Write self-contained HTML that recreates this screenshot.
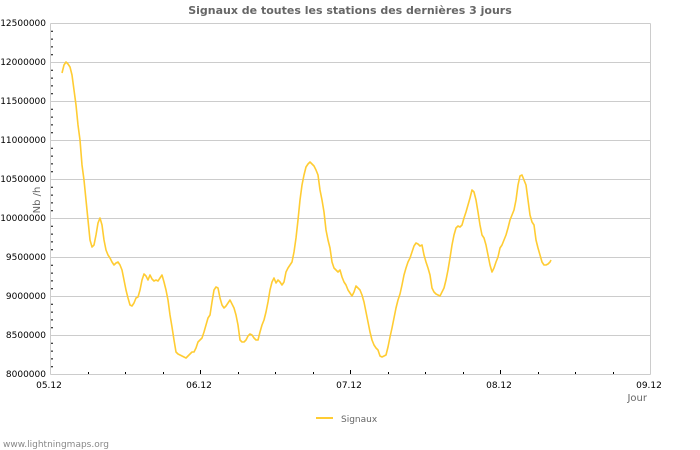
<!DOCTYPE html>
<html><head><meta charset="utf-8"><style>
html,body{margin:0;padding:0;background:#fff;}
svg{display:block;font-family:"DejaVu Sans","Liberation Sans",sans-serif;}
</style></head><body>
<svg width="700" height="450" viewBox="0 0 700 450" xmlns="http://www.w3.org/2000/svg">
<rect width="700" height="450" fill="#fff"/>
<text x="350" y="14" text-anchor="middle" font-size="11" font-weight="bold" fill="#666">Signaux de toutes les stations des dernières 3 jours</text>
<g stroke="#ccc" stroke-width="1" fill="none">
<line x1="50.5" y1="23.5" x2="650.5" y2="23.5"/>
<line x1="50.5" y1="62.5" x2="650.5" y2="62.5"/>
<line x1="50.5" y1="101.5" x2="650.5" y2="101.5"/>
<line x1="50.5" y1="140.5" x2="650.5" y2="140.5"/>
<line x1="50.5" y1="179.5" x2="650.5" y2="179.5"/>
<line x1="50.5" y1="218.5" x2="650.5" y2="218.5"/>
<line x1="50.5" y1="257.5" x2="650.5" y2="257.5"/>
<line x1="50.5" y1="296.5" x2="650.5" y2="296.5"/>
<line x1="50.5" y1="335.5" x2="650.5" y2="335.5"/>
<line x1="50.5" y1="374.5" x2="650.5" y2="374.5"/>
<line x1="50.5" y1="23.5" x2="50.5" y2="374.5"/>
<line x1="650.5" y1="23.5" x2="650.5" y2="374.5"/>
</g>
<g stroke="#000" stroke-width="1">
<path d="M51 31.3h2M51 39.1h2M51 46.9h2M51 54.7h2M51 70.3h2M51 78.1h2M51 85.9h2M51 93.7h2M51 109.3h2M51 117.1h2M51 124.9h2M51 132.7h2M51 148.3h2M51 156.1h2M51 163.9h2M51 171.7h2M51 187.3h2M51 195.1h2M51 202.9h2M51 210.7h2M51 226.3h2M51 234.1h2M51 241.9h2M51 249.7h2M51 265.3h2M51 273.1h2M51 280.9h2M51 288.7h2M51 304.3h2M51 312.1h2M51 319.9h2M51 327.7h2M51 343.3h2M51 351.1h2M51 358.9h2M51 366.7h2"/>
<path d="M88.5 374v-2M125.5 374v-2M163.5 374v-2M200.5 374v-4M238.5 374v-2M275.5 374v-2M313.5 374v-2M350.5 374v-4M388.5 374v-2M425.5 374v-2M463.5 374v-2M500.5 374v-4M538.5 374v-2M575.5 374v-2M613.5 374v-2"/>
</g>
<g font-size="9" fill="#000" text-anchor="end">
<text x="46" y="26">12500000</text><text x="46" y="65">12000000</text><text x="46" y="104">11500000</text><text x="46" y="143">11000000</text><text x="46" y="182">10500000</text><text x="46" y="221">10000000</text><text x="46" y="260">9500000</text><text x="46" y="299">9000000</text><text x="46" y="338">8500000</text><text x="46" y="377">8000000</text>
</g>
<g font-size="9" fill="#000" text-anchor="middle">
<text x="49" y="388">05.12</text><text x="199" y="388">06.12</text><text x="349" y="388">07.12</text><text x="499" y="388">08.12</text><text x="649" y="388">09.12</text>
</g>
<text x="647" y="401" text-anchor="end" font-size="10" fill="#666">Jour</text>
<text transform="translate(40,200) rotate(-90)" text-anchor="middle" font-size="10" fill="#666">Nb /h</text>
<polyline fill="none" stroke="#ffcc33" stroke-width="1.6" stroke-linejoin="round" points="62,73 64,65 66,62 68,64 70,67 72,75 74,90 76,105 78,125 80,140 82,165 84,180 86,200 88,220 90,240 92,247 94,245 96,235 98,223 100,218 102,225 104,240 106,250 108,255 110,258 112,262 114,265 116,263 118,262 120,265 122,270 124,280 126,290 128,298 130,305 132,306 134,303 136,298 138,297 140,290 142,280 144,274 146,276 148,280 150,275 152,279 154,281 156,280 158,281 160,278 162,275 164,282 166,290 168,300 170,315 172,327 174,340 176,352 178,354 180,355 182,356 184,357 186,358 188,356 190,354 192,352 194,352 196,348 198,342 200,340 202,338 204,332 206,325 208,318 210,315 212,302 214,290 216,287 218,288 220,298 222,305 224,308 226,306 228,303 230,300 232,304 234,308 236,315 238,325 240,340 242,342 244,342 246,340 248,336 250,334 252,335 254,338 256,340 258,340 260,332 262,325 264,320 266,312 268,302 270,290 272,282 274,278 276,283 278,280 280,282 282,285 284,282 286,272 288,268 290,265 292,262 294,252 296,238 298,220 300,200 302,185 304,175 306,167 308,164 310,162 312,164 314,166 316,170 318,175 320,190 322,200 324,212 326,230 328,240 330,248 332,262 334,268 336,270 338,272 340,270 342,277 344,282 346,285 348,290 350,293 352,296 354,292 356,286 358,288 360,290 362,295 364,302 366,312 368,322 370,332 372,340 374,345 376,348 378,350 380,356 382,357 384,356 386,355 388,347 390,337 392,328 394,318 396,308 398,300 400,294 402,285 404,275 406,268 408,262 410,258 412,252 414,246 416,243 418,244 420,246 422,245 424,255 426,262 428,268 430,275 432,288 434,292 436,294 438,295 440,296 442,292 444,288 446,280 448,270 450,258 452,245 454,235 456,228 458,226 460,227 462,225 464,218 466,212 468,205 470,198 472,190 474,192 476,200 478,212 480,225 482,235 484,238 486,245 488,255 490,265 492,272 494,268 496,262 498,257 500,248 502,245 504,240 506,235 508,228 510,220 512,215 514,210 516,200 518,185 520,176 522,175 524,180 526,185 528,200 530,215 532,222 534,225 536,240 538,248 540,255 542,262 544,265 546,265 548,264 550,262 551,260"/>
<line x1="316" y1="418" x2="333" y2="418" stroke="#ffcc33" stroke-width="2"/>
<text x="341" y="422" font-size="9" fill="#666">Signaux</text>
<text x="3" y="447" font-size="9" fill="#888">www.lightningmaps.org</text>
</svg>
</body></html>
